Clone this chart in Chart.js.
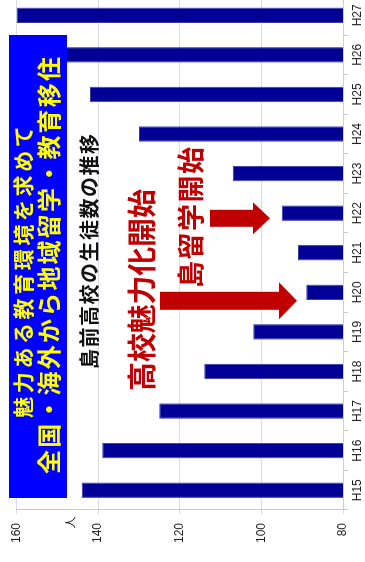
<!DOCTYPE html>
<html>
<head>
<meta charset="utf-8">
<script src="https://cdn.jsdelivr.net/npm/chart.js@4"></script>
<style>
html, body { margin: 0; padding: 0; overflow: hidden; background: #fff; width: 365px; height: 562px; }
/* the chart is drawn upright, then turned a quarter turn like the photo */
#wrap { position: absolute; left: 0; top: 562px; width: 572px; height: 365px; transform-origin: 0 0; transform: rotate(-90deg); }
canvas { display: block; }
</style>
</head>
<body>
<div id="wrap"><canvas id="chart" width="572" height="365"></canvas></div>
<script>
// 島前高校 student counts per year
const years = ['H15', 'H16', 'H17', 'H18', 'H19', 'H20', 'H21', 'H22', 'H23', 'H24', 'H25', 'H26', 'H27'];
const students = [144, 139, 125, 114, 102, 89, 91, 95, 107, 130, 142, 156, 160];
const valueTicks = [80, 100, 120, 140, 160];

const JP = '"Noto Sans CJK JP", "Noto Sans", sans-serif';

function spaced(ctx, text, cx, cy, adv) {
    const chars = [...text];
    let x = cx - adv * (chars.length - 1) / 2;
    chars.forEach(ch => {
        ctx.fillText(ch, x, cy);
        x += adv;
    });
}

function arrowDown(ctx, cx, y0, yHead, yTip, shaftW, headW) {
    ctx.beginPath();
    ctx.moveTo(cx - shaftW / 2, y0);
    ctx.lineTo(cx + shaftW / 2, y0);
    ctx.lineTo(cx + shaftW / 2, yHead);
    ctx.lineTo(cx + headW / 2, yHead);
    ctx.lineTo(cx, yTip);
    ctx.lineTo(cx - headW / 2, yHead);
    ctx.lineTo(cx - shaftW / 2, yHead);
    ctx.closePath();
    ctx.fill();
}

const notes = {
    id: 'notes',
    afterDraw(chart) {
        const ctx = chart.ctx;
        ctx.save();
        ctx.textAlign = 'center';
        ctx.textBaseline = 'middle';

        // blue banner
        ctx.fillStyle = '#0000ff';
        ctx.fillRect(64, 9, 463, 58);
        ctx.fillStyle = '#ffff00';
        ctx.font = 'bold 21px ' + JP;
        spaced(ctx, '魅力ある教育環境を求めて', 290, 23, 24.6);
        ctx.font = 'bold 24px ' + JP;
        spaced(ctx, '全国・海外から地域留学・教育移住', 296.5, 49, 26.2);

        // chart title
        ctx.fillStyle = '#111';
        ctx.font = 'bold 20px ' + JP;
        spaced(ctx, '島前高校の生徒数の推移', 310.5, 89, 21.5);

        // red notes and arrows
        ctx.fillStyle = '#c00000';
        ctx.font = 'bold 29px ' + JP;
        spaced(ctx, '高校魅力化開始', 272, 141.5, 28.8);
        ctx.font = 'bold 27px ' + JP;
        spaced(ctx, '島留学開始', 344.5, 190.5, 28.5);
        arrowDown(ctx, 261.2, 160, 279, 297, 18, 37);
        arrowDown(ctx, 343.7, 210, 253, 270, 17, 32);

        // unit
        ctx.fillStyle = '#222';
        ctx.font = '12px ' + JP;
        ctx.fillText('人', 39.5, 70);
        ctx.restore();
    }
};

new Chart(document.getElementById('chart'), {
    type: 'bar',
    data: {
        labels: years,
        datasets: [{
            data: students,
            backgroundColor: '#000096',
            borderColor: '#3a3aa8',
            borderWidth: 1,
            barPercentage: 0.39,
            categoryPercentage: 1
        }]
    },
    options: {
        responsive: false,
        animation: false,
        devicePixelRatio: 1,
        layout: { padding: { top: 16.5, right: 5.5, left: 0, bottom: 0 } },
        plugins: { legend: { display: false }, tooltip: { enabled: false } },
        scales: {
            x: {
                grid: { offset: true, drawOnChartArea: false, tickLength: 5, color: '#c8c8c8' },
                border: { color: '#d0d0d0' },
                ticks: { font: { family: 'Arial', size: 12 }, color: '#222', padding: 2, maxRotation: 0, autoSkip: false },
                afterFit: s => { s.height = 22; }
            },
            y: {
                min: 80,
                max: 160,
                grid: { color: '#dcdce6', tickLength: 4 },
                border: { color: '#c8c8e6' },
                ticks: { font: { family: 'Arial', size: 12 }, color: '#222', padding: 9 },
                afterBuildTicks: s => { s.ticks = valueTicks.map(v => ({ value: v })); },
                afterFit: s => { s.width = 52; }
            }
        }
    },
    plugins: [notes]
});
</script>
</body>
</html>
